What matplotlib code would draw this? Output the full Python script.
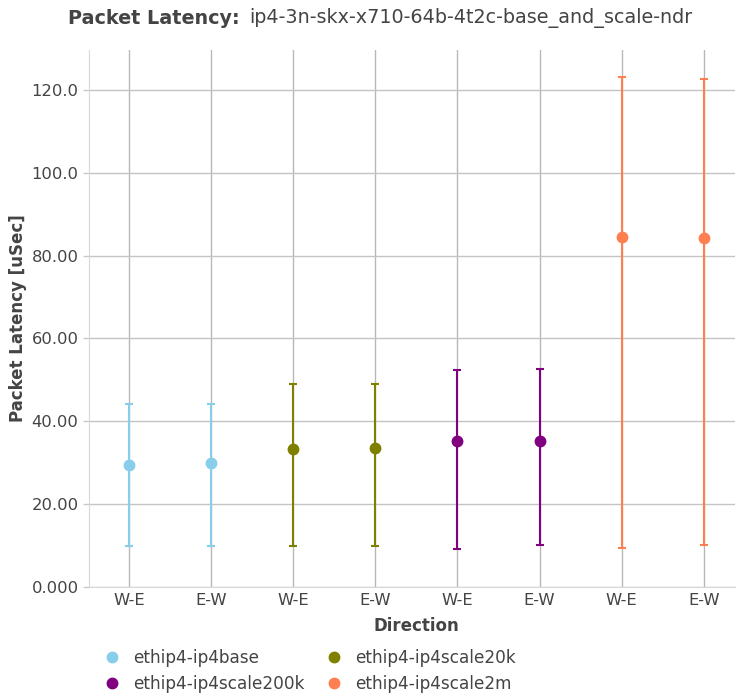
import matplotlib
matplotlib.use("Agg")
import matplotlib.pyplot as plt
from matplotlib.lines import Line2D

plt.rcParams['font.family'] = ['DejaVu Sans']

categories = ["W-E", "E-W", "W-E", "E-W", "W-E", "E-W", "W-E", "E-W"]
series_names = ["ethip4-ip4base", "ethip4-ip4scale20k", "ethip4-ip4scale200k", "ethip4-ip4scale2m"]
series_colors = ["#87CEEB", "#808000", "#800080", "#FF7F50"]
series_positions = [[0, 1], [2, 3], [4, 5], [6, 7]]
avg_values = [[29.5, 30.0], [33.3, 33.5], [35.3, 35.3], [84.5, 84.2]]
min_values = [[10.0, 10.0], [10.0, 10.0], [9.2, 10.1], [9.3, 10.1]]
max_values = [[44.2, 44.3], [49.0, 49.0], [52.4, 52.6], [123.1, 122.7]]
y_ticks = [0, 20, 40, 60, 80, 100, 120]
y_tick_labels = ["0.000", "20.00", "40.00", "60.00", "80.00", "100.0", "120.0"]

W, H = 736, 700
fig = plt.figure(figsize=(W / 100, H / 100), dpi=100)
ax = fig.add_axes([89 / W, (H - 587) / H, (735 - 89) / W, (587 - 50) / H])

txt = "#444444"
for name, col, pos, av, mn, mx in zip(series_names, series_colors, series_positions,
                                      avg_values, min_values, max_values):
    lo = [a - b for a, b in zip(av, mn)]
    hi = [b - a for a, b in zip(av, mx)]
    ax.errorbar(pos, av, yerr=[lo, hi], fmt='o', color=col, ecolor=col,
                markersize=7.5, elinewidth=1.5, capsize=3, capthick=1.5, zorder=3,
                label=name)

ax.set_xlim(-0.487, 7.38)
ax.set_ylim(0, 129.65)
ax.set_xticks(range(len(categories)))
ax.set_xticklabels(categories)
ax.set_yticks(y_ticks)
ax.set_yticklabels(y_tick_labels)
ax.tick_params(axis='x', length=0, pad=4, labelsize=11.8, labelcolor=txt)
ax.tick_params(axis='y', length=4.5, width=1, color="#c8c8c8", pad=3, labelsize=11.8, labelcolor=txt)
ax.grid(axis='x', color="#b8b8b8", linewidth=1)
ax.grid(axis='y', color="#c4c4c4", linewidth=1)
ax.set_axisbelow(True)
for s in ['top', 'right']:
    ax.spines[s].set_visible(False)
ax.spines['left'].set_color("#d8d8d8")
ax.spines['bottom'].set_color("#d8d8d8")

fig.text(18 / W, (H - 318) / H, "Packet Latency [uSec]", rotation=90, ha='center', va='center',
         fontsize=12, fontweight='bold', color=txt)
fig.text(416 / W, (H - 626) / H, "Direction", ha='center', va='center',
         fontsize=12, fontweight='bold', color=txt)

fig.text(240 / W, (H - 18) / H, "Packet Latency:", ha='right', va='center',
         fontsize=13.8, fontweight='bold', color=txt)
fig.text(249 / W, (H - 18) / H, "ip4-3n-skx-x710-64b-4t2c-base_and_scale-ndr", ha='left', va='center',
         fontsize=13.8, color=txt)

order = [0, 2, 1, 3]
handles = [Line2D([], [], marker='o', linestyle='none', color=series_colors[i], markersize=7.5)
           for i in order]
labels = [series_names[i] for i in order]
fig.legend(handles, labels, loc='upper left', bbox_to_anchor=(104 / W, (H - 649) / H),
           ncol=2, frameon=False, fontsize=12.2, handlelength=1.0, handletextpad=0.74,
           columnspacing=1.2, labelspacing=0.45, borderpad=0, borderaxespad=0,
           labelcolor=txt)

fig.savefig("out.png", dpi=100)
